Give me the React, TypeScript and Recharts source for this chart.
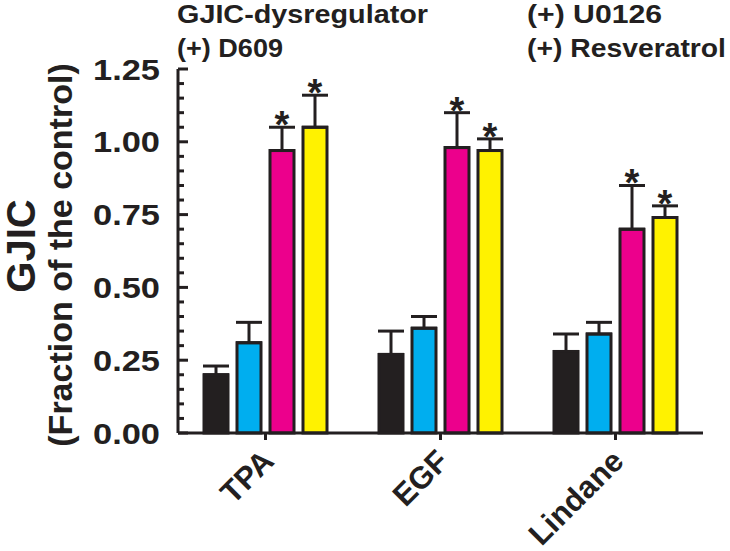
import React from "react";
import { Bar, BarChart, ErrorBar, LabelList, XAxis, YAxis } from "recharts";

const categories = ["TPA", "EGF", "Lindane"];
const dysregulator = [0.2, 0.27, 0.28];
const dysregulatorErr = [0.03, 0.08, 0.06];
const d609 = [0.31, 0.36, 0.34];
const d609Err = [0.07, 0.04, 0.04];
const u0126 = [0.97, 0.98, 0.7];
const u0126Err = [0.08, 0.12, 0.15];
const resveratrol = [1.05, 0.97, 0.74];
const resveratrolErr = [0.11, 0.04, 0.04];
const yTicks = [
  0, 0.05, 0.1, 0.15, 0.2, 0.25, 0.3, 0.35, 0.4, 0.45, 0.5, 0.55, 0.6, 0.65, 0.7, 0.75, 0.8, 0.85, 0.9, 0.95, 1.0,
  1.05, 1.1, 1.15, 1.2, 1.25
];
const yMajor = [0, 0.25, 0.5, 0.75, 1.0, 1.25];

const data = categories.map((name, i) => ({
  name,
  a: dysregulator[i],
  aErr: [0, dysregulatorErr[i]],
  b: d609[i],
  bErr: [0, d609Err[i]],
  c: u0126[i],
  cErr: [0, u0126Err[i]],
  d: resveratrol[i],
  dErr: [0, resveratrolErr[i]]
}));

const INK = "#231f20";
const FONT = "'Liberation Sans', Arial, sans-serif";

function YTick(props: any) {
  const { x, y, payload } = props;
  const major = yMajor.some((m) => Math.abs(m - payload.value) < 1e-6);
  return (
    <g>
      <line x1={x} x2={x + (major ? 10 : 6)} y1={y} y2={y} stroke={INK} strokeWidth={3} />
      {major && (
        <text
          x={160}
          y={y + 10.5}
          textAnchor="end"
          fontFamily={FONT}
          fontWeight="bold"
          fontSize={30}
          fill={INK}
          textLength={67}
          lengthAdjust="spacingAndGlyphs"
        >
          {payload.value.toFixed(2)}
        </text>
      )}
    </g>
  );
}

function XTick(props: any) {
  const { x, y, payload } = props;
  const px = x + 10;
  const py = y + 23;
  return (
    <text
      x={px}
      y={py}
      transform={`rotate(-45 ${px} ${py})`}
      textAnchor="end"
      fontFamily={FONT}
      fontWeight="bold"
      fontSize={31}
      fill={INK}
    >
      {payload.value}
    </text>
  );
}

function makeStar(errs: number[]) {
  return function Star(props: any) {
    const { x, width, index, value } = props;
    const top = value + errs[index];
    // 291.2 px per unit on the y scale, zero at 433
    const capY = 433 - top * 291.2;
    return (
      <text
        x={x + width / 2}
        y={capY + 11}
        textAnchor="middle"
        fontFamily={FONT}
        fontWeight="bold"
        fontSize={38}
        fill={INK}
      >
        *
      </text>
    );
  };
}

export default function App() {
  return (
    <div style={{ position: "absolute", left: 0, top: 0, width: 730, height: 551, background: "#fff" }}>
      <BarChart
        width={730}
        height={551}
        data={data}
        margin={{ top: 69, right: 27, bottom: 0, left: 0 }}
        barSize={24}
        barGap={9}
      >
        <XAxis
          dataKey="name"
          axisLine={{ stroke: INK, strokeWidth: 3 }}
          tickLine={{ stroke: INK, strokeWidth: 3 }}
          tickSize={7}
          tickMargin={0}
          tick={<XTick />}
          interval={0}
          height={118}
        />
        <YAxis
          domain={[0, 1.25]}
          ticks={yTicks}
          interval={0}
          width={178}
          axisLine={{ stroke: INK, strokeWidth: 3 }}
          tickLine={false}
          tickSize={0}
          tickMargin={0}
          tick={<YTick />}
        />
        <Bar dataKey="a" fill={INK} stroke={INK} strokeWidth={3} isAnimationActive={false}>
          <ErrorBar dataKey="aErr" width={13} stroke={INK} strokeWidth={3} direction="y" />
        </Bar>
        <Bar dataKey="b" fill="#00aeef" stroke={INK} strokeWidth={3} isAnimationActive={false}>
          <ErrorBar dataKey="bErr" width={13} stroke={INK} strokeWidth={3} direction="y" />
        </Bar>
        <Bar dataKey="c" fill="#ec008c" stroke={INK} strokeWidth={3} isAnimationActive={false}>
          <ErrorBar dataKey="cErr" width={13} stroke={INK} strokeWidth={3} direction="y" />
          <LabelList dataKey="c" content={makeStar(u0126Err)} />
        </Bar>
        <Bar dataKey="d" fill="#fff200" stroke={INK} strokeWidth={3} isAnimationActive={false}>
          <ErrorBar dataKey="dErr" width={13} stroke={INK} strokeWidth={3} direction="y" />
          <LabelList dataKey="d" content={makeStar(resveratrolErr)} />
        </Bar>
      </BarChart>
      <svg width={730} height={551} style={{ position: "absolute", left: 0, top: 0, pointerEvents: "none" }}>
        <g fontFamily={FONT} fontWeight="bold" fill={INK}>
          <text x={177} y={23} fontSize={25} textLength={251} lengthAdjust="spacingAndGlyphs">
            GJIC-dysregulator
          </text>
          <text x={177} y={57} fontSize={25} textLength={106} lengthAdjust="spacingAndGlyphs">
            (+) D609
          </text>
          <text x={527} y={23} fontSize={25} textLength={135} lengthAdjust="spacingAndGlyphs">
            (+) U0126
          </text>
          <text x={527} y={57} fontSize={25} textLength={199} lengthAdjust="spacingAndGlyphs">
            (+) Resveratrol
          </text>
          <text x={35} y={246} fontSize={40} textAnchor="middle" transform="rotate(-90 35 246)">
            GJIC
          </text>
          <text x={72} y={255} fontSize={34} textAnchor="middle" transform="rotate(-90 72 255)">
            (Fraction of the control)
          </text>
        </g>
      </svg>
    </div>
  );
}
